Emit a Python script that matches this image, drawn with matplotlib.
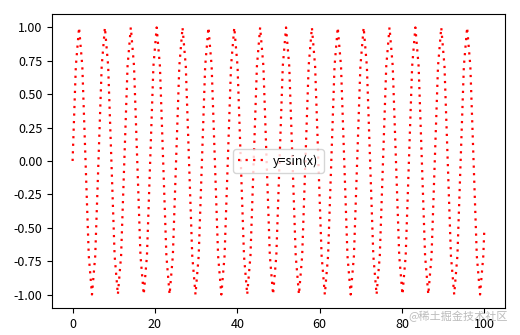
import matplotlib
matplotlib.use("Agg")
import matplotlib.pyplot as plt

plt.rcParams['font.family'] = ['Noto Sans CJK SC', 'DejaVu Sans']
plt.rcParams['axes.unicode_minus'] = False

# points (zero crossings, quarter points, peaks), last at x=100
x = [0, 0.79, 1.57, 2.36, 3.14, 3.93, 4.71, 5.50,
     6.28, 7.07, 7.85, 8.64, 9.42, 10.21, 11.00, 11.78,
     12.57, 13.35, 14.14, 14.92, 15.71, 16.49, 17.28, 18.06,
     18.85, 19.63, 20.42, 21.21, 21.99, 22.78, 23.56, 24.35,
     25.13, 25.92, 26.70, 27.49, 28.27, 29.06, 29.85, 30.63,
     31.42, 32.20, 32.99, 33.77, 34.56, 35.34, 36.13, 36.91,
     37.70, 38.48, 39.27, 40.06, 40.84, 41.63, 42.41, 43.20,
     43.98, 44.77, 45.55, 46.34, 47.12, 47.91, 48.69, 49.48,
     50.27, 51.05, 51.84, 52.62, 53.41, 54.19, 54.98, 55.76,
     56.55, 57.33, 58.12, 58.90, 59.69, 60.48, 61.26, 62.05,
     62.83, 63.62, 64.40, 65.19, 65.97, 66.76, 67.54, 68.33,
     69.12, 69.90, 70.69, 71.47, 72.26, 73.04, 73.83, 74.61,
     75.40, 76.18, 76.97, 77.75, 78.54, 79.33, 80.11, 80.90,
     81.68, 82.47, 83.25, 84.04, 84.82, 85.61, 86.39, 87.18,
     87.96, 88.75, 89.54, 90.32, 91.11, 91.89, 92.68, 93.46,
     94.25, 95.03, 95.82, 96.60, 97.39, 98.17, 98.96, 99.75,
     100]
y = [0, 0.71, 1, 0.71, 0, -0.71, -1, -0.71,
     0, 0.71, 1, 0.71, 0, -0.71, -1, -0.71,
     0, 0.71, 1, 0.71, 0, -0.71, -1, -0.71,
     0, 0.71, 1, 0.71, 0, -0.71, -1, -0.71,
     0, 0.71, 1, 0.71, 0, -0.71, -1, -0.71,
     0, 0.71, 1, 0.71, 0, -0.71, -1, -0.71,
     0, 0.71, 1, 0.71, 0, -0.71, -1, -0.71,
     0, 0.71, 1, 0.71, 0, -0.71, -1, -0.71,
     0, 0.71, 1, 0.71, 0, -0.71, -1, -0.71,
     0, 0.71, 1, 0.71, 0, -0.71, -1, -0.71,
     0, 0.71, 1, 0.71, 0, -0.71, -1, -0.71,
     0, 0.71, 1, 0.71, 0, -0.71, -1, -0.71,
     0, 0.71, 1, 0.71, 0, -0.71, -1, -0.71,
     0, 0.71, 1, 0.71, 0, -0.71, -1, -0.71,
     0, 0.71, 1, 0.71, 0, -0.71, -1, -0.71,
     0, 0.71, 1, 0.71, 0, -0.71, -1, -0.71,
     -0.51]
label = 'y=sin(x)'
watermark = '@稀土掘金技术社区'

fig = plt.figure(figsize=(5.2, 3.35), dpi=100)
ax = fig.add_axes([0.1, 0.081, 0.871, 0.877])
ax.plot(x, y, color='red', linestyle=(0, (1, 2.4)), linewidth=1.6, label=label)
ax.set_xticks([0, 20, 40, 60, 80, 100])
ax.set_yticks([-1.0, -0.75, -0.5, -0.25, 0.0, 0.25, 0.5, 0.75, 1.0])
ax.tick_params(labelsize=9)
ax.legend(loc='center', fontsize=9)

# watermark sits over the 80/100 tick labels, as in the reference
fig.text(0.977, 0.055, watermark, ha='right', va='center', fontsize=8,
         color='#b4b4b4', alpha=0.9)

fig.savefig('out.png')
